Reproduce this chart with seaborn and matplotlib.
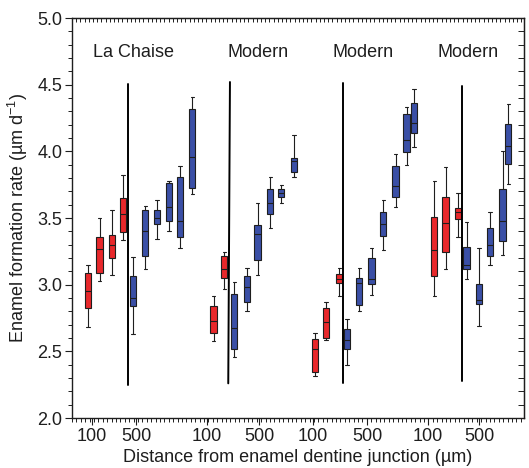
import numpy as np
import pandas as pd
import seaborn as sns
import matplotlib.pyplot as plt
from matplotlib.ticker import MultipleLocator, FixedLocator, NullLocator

# position of each box along the x axis (axis units) and which colour set it belongs to
xpos = [16, 27.7, 40, 51, 61, 73.3, 85, 97, 108, 120.3,
        141.7, 152.3, 162.3, 175, 185.7, 198.3, 209.3, 222,
        243, 254, 267.3, 275, 287.3, 299.7, 311.3, 323.7, 334.7, 342,
        362.3, 373.7, 386, 394.7, 407, 418, 430.7, 436.3]
kind = (['red'] * 4 + ['blue'] * 6 +
        ['red'] * 2 + ['blue'] * 6 +
        ['red'] * 3 + ['blue'] * 7 +
        ['red'] * 3 + ['blue'] * 5)

# five-number summaries: whisker low, q1, median, q3, whisker high
wlo = [2.68, 3.03, 3.07, 3.333, 2.627, 3.118, 3.343, 3.405, 3.273, 3.678,
       2.575, 2.97, 2.46, 2.80, 3.07, 3.428, 3.615, 3.81,
       2.315, 2.585, 2.918, 2.398, 2.80, 2.923, 3.26, 3.585, 3.898, 4.03,
       2.918, 3.115, 3.355, 3.04, 2.69, 3.148, 3.223, 3.755]
q1 = [2.825, 3.09, 3.198, 3.393, 2.843, 3.218, 3.455, 3.475, 3.355, 3.728,
      2.64, 3.053, 2.52, 2.873, 3.185, 3.528, 3.655, 3.843,
      2.343, 2.603, 3.01, 2.515, 2.848, 3.003, 3.365, 3.655, 3.998, 4.135,
      3.065, 3.248, 3.49, 3.115, 2.855, 3.218, 3.33, 3.903]
med = [2.95, 3.27, 3.295, 3.528, 2.898, 3.405, 3.503, 3.58, 3.478, 3.958,
       2.73, 3.118, 2.677, 2.98, 3.378, 3.615, 3.685, 3.928,
       2.515, 2.723, 3.04, 2.585, 3.01, 3.04, 3.455, 3.74, 4.085, 4.21,
       3.26, 3.46, 3.548, 3.148, 2.885, 3.298, 3.478, 4.04]
q3 = [3.085, 3.355, 3.375, 3.648, 3.065, 3.56, 3.563, 3.76, 3.81, 4.318,
      2.843, 3.218, 2.927, 3.065, 3.448, 3.718, 3.718, 3.948,
      2.593, 2.823, 3.08, 2.665, 3.053, 3.198, 3.543, 3.893, 4.278, 4.36,
      3.51, 3.655, 3.573, 3.28, 3.003, 3.428, 3.718, 4.205]
whi = [3.148, 3.50, 3.56, 3.82, 3.21, 3.592, 3.635, 3.78, 3.893, 4.405,
       2.918, 3.247, 3.02, 3.123, 3.613, 3.81, 3.748, 4.122,
       2.635, 2.873, 3.128, 2.74, 3.123, 3.273, 3.635, 3.98, 4.33, 4.465,
       3.78, 3.885, 3.685, 3.468, 3.273, 3.543, 4.003, 4.353]

# group dividers and labels
div_x_top = [55.7, 158, 271.3, 389.7]
div_x_bot = [55.7, 156.3, 271.3, 389.7]
div_y_top = [4.505, 4.52, 4.51, 4.49]
div_y_bot = [2.25, 2.26, 2.265, 2.277]
group_names = ['La Chaise', 'Modern', 'Modern', 'Modern']
group_x = [62, 186, 291, 396]
group_y = 4.745

tick_pos = [20, 64.5, 135, 187, 241, 295, 356, 407]
tick_lab = ['100', '500'] * 4

rows = []
for i in range(len(xpos)):
    for v in (wlo[i], q1[i], med[i], q3[i], whi[i]):
        rows.append({'x': xpos[i], 'kind': kind[i], 'rate': v})
df = pd.DataFrame(rows)

sns.set_style('ticks')
plt.rcParams['font.family'] = ['Liberation Sans', 'DejaVu Sans']
plt.rcParams['mathtext.fontset'] = 'custom'
plt.rcParams['mathtext.rm'] = 'Liberation Sans'
plt.rcParams['mathtext.it'] = 'Liberation Sans:italic'
plt.rcParams['mathtext.default'] = 'regular'

fig = plt.figure(figsize=(5.29, 4.68), dpi=100)
ax = fig.add_axes([0.136, 0.1068, 0.8545, 0.8547])

ink = '#1e1e1e'
fs = 13
sns.boxplot(data=df, x='x', y='rate', hue='kind', native_scale=True, dodge=False,
            palette={'red': '#e8282b', 'blue': '#3a4fa6'}, width=1.15,
            whis=(0, 100), linewidth=0.8, linecolor=ink, saturation=1,
            legend=False, ax=ax)

for i in range(len(div_x_top)):
    ax.plot([div_x_bot[i], div_x_top[i]], [div_y_bot[i], div_y_top[i]],
            color='black', lw=1.4, zorder=4)
for name, gx in zip(group_names, group_x):
    ax.text(gx, group_y, name, ha='center', va='center', fontsize=fs, color=ink)

ax.set_xlim(0, 452)
ax.set_ylim(2.0, 5.0)
ax.xaxis.set_major_locator(FixedLocator(tick_pos))
ax.set_xticklabels(tick_lab)
ax.xaxis.set_minor_locator(MultipleLocator(4.4))
ax.yaxis.set_major_locator(MultipleLocator(0.5))
ax.yaxis.set_minor_locator(MultipleLocator(0.1))
ax.set_yticklabels([f'{t:.1f}' for t in ax.get_yticks()])
ax.tick_params(which='major', direction='out', length=5, width=0.8, color=ink,
               labelsize=fs, labelcolor=ink, pad=2)
ax.tick_params(which='minor', direction='out', length=3, width=0.7, color=ink)
ax.set_xlabel('Distance from enamel dentine junction (µm)', fontsize=fs, color=ink, labelpad=3)
ax.set_ylabel('Enamel formation rate (µm d$^{-1}$)', fontsize=fs, color=ink, labelpad=5)

for side in ['left', 'bottom', 'top', 'right']:
    ax.spines[side].set_visible(True)
    ax.spines[side].set_color(ink)
    ax.spines[side].set_linewidth(1.0)

top = ax.secondary_xaxis('top')
top.xaxis.set_major_locator(NullLocator())
top.xaxis.set_minor_locator(MultipleLocator(4.2))
top.tick_params(which='minor', direction='in', length=3, width=0.7, color=ink)
top.spines['top'].set_color(ink)

right = ax.secondary_yaxis('right')
right.yaxis.set_major_locator(NullLocator())
right.yaxis.set_minor_locator(MultipleLocator(0.1))
right.tick_params(which='minor', direction='in', length=4, width=0.7, color=ink)
right.spines['right'].set_color(ink)

fig.savefig('out.png', dpi=100)
